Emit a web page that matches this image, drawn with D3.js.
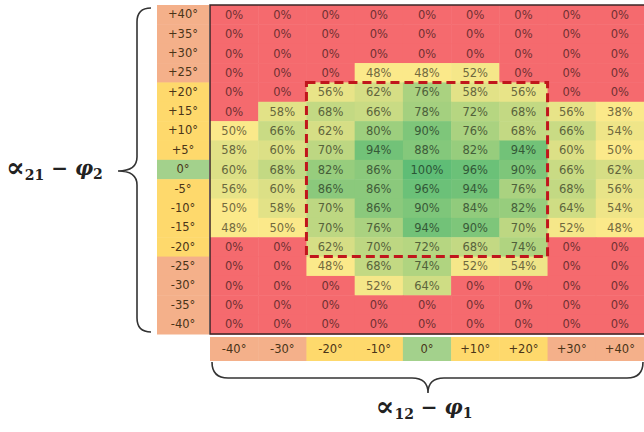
<!DOCTYPE html>
<html>
<head>
<meta charset="utf-8">
<script src="https://cdn.jsdelivr.net/npm/d3@7/dist/d3.min.js"></script>
<style>
  body { margin: 0; background: #fff; }
  svg { display: block; }
  .cell-text, .tick text { font-family: "DejaVu Sans", sans-serif; font-size: 11.5px; }
  .axis-title { font-family: "DejaVu Serif", serif; font-weight: bold; font-size: 20px; fill: #222; }
</style>
</head>
<body>
<svg id="chart" width="644" height="432"></svg>
<script>
var rowLabels = ["+40°", "+35°", "+30°", "+25°", "+20°", "+15°", "+10°", "+5°", "0°",
                 "-5°", "-10°", "-15°", "-20°", "-25°", "-30°", "-35°", "-40°"];
var rowAngles = [40, 35, 30, 25, 20, 15, 10, 5, 0, -5, -10, -15, -20, -25, -30, -35, -40];
var colLabels = ["-40°", "-30°", "-20°", "-10°", "0°", "+10°", "+20°", "+30°", "+40°"];
var colAngles = [-40, -30, -20, -10, 0, 10, 20, 30, 40];

// success rate (%) per row, columns left to right
var values = [
    [0, 0, 0, 0, 0, 0, 0, 0, 0],
    [0, 0, 0, 0, 0, 0, 0, 0, 0],
    [0, 0, 0, 0, 0, 0, 0, 0, 0],
    [0, 0, 0, 48, 48, 52, 0, 0, 0],
    [0, 0, 56, 62, 76, 58, 56, 0, 0],
    [0, 58, 68, 66, 78, 72, 68, 56, 38],
    [50, 66, 62, 80, 90, 76, 68, 66, 54],
    [58, 60, 70, 94, 88, 82, 94, 60, 50],
    [60, 68, 82, 86, 100, 96, 90, 66, 62],
    [56, 60, 86, 86, 96, 94, 76, 68, 56],
    [50, 58, 70, 86, 90, 84, 82, 64, 54],
    [48, 50, 70, 76, 94, 90, 70, 52, 48],
    [0, 0, 62, 70, 72, 68, 74, 0, 0],
    [0, 0, 48, 68, 74, 52, 54, 0, 0],
    [0, 0, 0, 52, 64, 0, 0, 0, 0],
    [0, 0, 0, 0, 0, 0, 0, 0, 0],
    [0, 0, 0, 0, 0, 0, 0, 0, 0]
];

// highlighted window (dashed box)
var boxCols = ["-20°", "+20°"];
var boxRows = ["+20°", "-20°"];

var svg = d3.select("#chart");

var x = d3.scaleBand().domain(colLabels).range([210, 644]);
var y = d3.scaleBand().domain(rowLabels).range([5, 334]);

var color = d3.scaleLinear()
    .domain([0, 30, 50, 100])
    .range(["#f56a6e", "#fbe98a", "#fbe98a", "#5fbd76"]);

function zoneColor(angle) {
    if (angle == 0) return "#a3d18c";
    if (Math.abs(angle) > 20) return "#f4b08a";
    return "#fed96c";
}

// cells
var cells = [];
values.forEach(function(row, i) {
    row.forEach(function(v, j) {
        cells.push({r: rowLabels[i], c: colLabels[j], v: v});
    });
});

var g = svg.append("g");
g.selectAll("rect")
    .data(cells)
    .enter()
    .append("rect")
    .attr("x", function(d) { return x(d.c); })
    .attr("y", function(d) { return y(d.r); })
    .attr("width", x.bandwidth() + 0.5)
    .attr("height", y.bandwidth() + 0.5)
    .attr("fill", function(d) { return d.v == 0 ? color(0) : color(d.v); });

g.selectAll("text")
    .data(cells)
    .enter()
    .append("text")
    .attr("class", "cell-text")
    .attr("x", function(d) { return x(d.c) + x.bandwidth() / 2; })
    .attr("y", function(d) { return y(d.r) + y.bandwidth() / 2; })
    .attr("dy", "0.36em")
    .attr("text-anchor", "middle")
    .attr("fill", function(d) { return d3.color(color(d.v)).darker(2.2); })
    .text(function(d) { return d.v + "%"; });

// grid border
svg.append("path")
    .attr("d", "M" + 644 + "," + y.range()[0] + "H" + x.range()[0] + "V" + y.range()[1] + "H" + 644)
    .attr("fill", "none")
    .attr("stroke", "#3a2626")
    .attr("stroke-width", 1.5);

// dashed window
svg.append("rect")
    .attr("x", x(boxCols[0]))
    .attr("y", y(boxRows[0]))
    .attr("width", x(boxCols[1]) + x.bandwidth() - x(boxCols[0]))
    .attr("height", y(boxRows[1]) + y.bandwidth() - y(boxRows[0]))
    .attr("fill", "none")
    .attr("stroke", "#c0161c")
    .attr("stroke-width", 3)
    .attr("stroke-dasharray", "9,5");

// row header
var rowHead = svg.append("g");
rowHead.selectAll("rect")
    .data(rowAngles)
    .enter()
    .append("rect")
    .attr("x", 157)
    .attr("y", function(d, i) { return y(rowLabels[i]); })
    .attr("width", 52)
    .attr("height", y.bandwidth() + 0.5)
    .attr("fill", zoneColor);

var yAxis = d3.axisLeft(y).tickSize(0).tickPadding(0);
svg.append("g")
    .attr("transform", "translate(183,0)")
    .call(yAxis)
    .call(function(a) { a.select(".domain").remove(); })
    .selectAll("text")
    .attr("text-anchor", "middle")
    .attr("fill", "#4a3418");

// column header
var colHead = svg.append("g");
colHead.selectAll("rect")
    .data(colAngles)
    .enter()
    .append("rect")
    .attr("x", function(d, i) { return x(colLabels[i]); })
    .attr("y", 337)
    .attr("width", x.bandwidth() + 0.5)
    .attr("height", 24)
    .attr("fill", zoneColor);

var xAxis = d3.axisBottom(x).tickSize(0).tickPadding(0);
svg.append("g")
    .attr("transform", "translate(0,349)")
    .call(xAxis)
    .call(function(a) { a.select(".domain").remove(); })
    .selectAll("text")
    .attr("dy", "0.36em")
    .attr("fill", "#4a3418");

// braces
svg.append("path")
    .attr("d", "M151,8 Q137,8 137,22 L137,157 Q137,171 118,171 Q137,171 137,185 L137,318 Q137,332 151,332")
    .attr("fill", "none")
    .attr("stroke", "#333")
    .attr("stroke-width", 1.6);

svg.append("path")
    .attr("d", "M212,362 Q212,378 228,378 L412,378 Q428,378 428,393 Q428,378 444,378 L627,378 Q643,378 643,362")
    .attr("fill", "none")
    .attr("stroke", "#333")
    .attr("stroke-width", 1.6);

// axis titles
function mathLabel(xPos, yPos, sub1, sub2, anchor) {
    var t = svg.append("text")
        .attr("class", "axis-title")
        .attr("x", xPos)
        .attr("y", yPos)
        .attr("text-anchor", anchor);
    t.append("tspan").attr("font-size", "28px").attr("dy", 2).text("\u221D");
    t.append("tspan").attr("font-size", "14px").attr("dy", 3).text(sub1);
    t.append("tspan").attr("dy", -5).text(" \u2212 ");
    t.append("tspan").attr("font-style", "italic").text("\u03C6");
    t.append("tspan").attr("font-size", "14px").attr("dy", 4).text(sub2);
}
mathLabel(6, 175, "21", "2", "start");
mathLabel(424, 414, "12", "1", "middle");
</script>
</body>
</html>
